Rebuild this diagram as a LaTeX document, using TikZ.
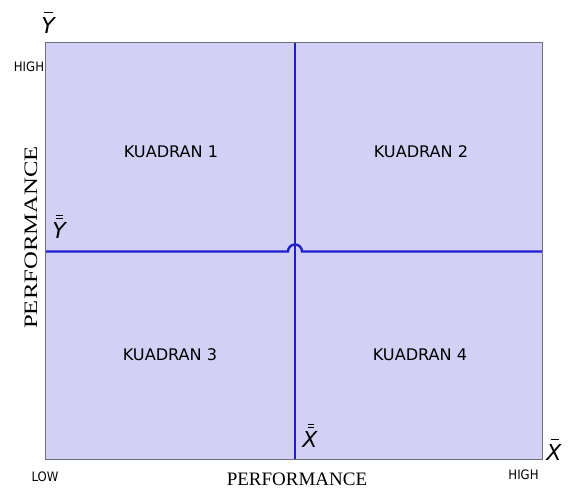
\documentclass[tikz,border=0pt]{standalone}
\usepackage{fontspec}
\usepackage{graphicx}
\setmainfont{Liberation Serif}
\newfontfamily\labelfont{DejaVu Sans Condensed}
\newfontfamily\symfont{DejaVu Sans}
\definecolor{quadfill}{RGB}{211,208,245}
\definecolor{quadedge}{RGB}{110,110,125}
\definecolor{axisblue}{RGB}{30,30,205}
\begin{document}
\begin{tikzpicture}[x=1pt,y=-1pt,
  quad/.style={inner sep=0pt,font=\labelfont\fontsize{16}{19}\selectfont},
  tick/.style={inner sep=0pt,font=\labelfont\fontsize{13}{16}\selectfont},
  axtitle/.style={inner sep=0pt,font=\fontsize{19}{22}\selectfont},
  sym/.style={inner sep=0pt,font=\symfont\itshape\fontsize{22}{26}\selectfont},
  bar/.style={line width=1.3pt,black},
  meanline/.style={axisblue,line width=2.4pt}]
\useasboundingbox (0,0) rectangle (568,489);

% plotting field
\fill[quadfill] (45,43) rectangle (542,459);

% mean lines: vertical at X, horizontal at Y with a hop over the vertical one
\draw[axisblue,line width=1.6pt] (295,43) -- (295,459);
\draw[meanline] (45,251.5) -- (288,251.5) arc[start angle=180,end angle=360,radius=7] -- (542,251.5);

\draw[quadedge,line width=1pt] (45,43) rectangle (542,459);

% quadrant names
\node[quad] (q1) at (171,152) {\scalebox{1.12}[1]{KUADRAN 1}};
\node[quad] (q2) at (421,152) {\scalebox{1.12}[1]{KUADRAN 2}};
\node[quad] (q3) at (170,355) {\scalebox{1.12}[1]{KUADRAN 3}};
\node[quad] (q4) at (420,355) {\scalebox{1.12}[1]{KUADRAN 4}};

% axis titles
\node[axtitle] (xt) at (297,479.5) {PERFORMANCE};
\node[axtitle,rotate=90] (yt) at (31,237.5) {\scalebox{1.3}[1]{PERFORMANCE}};

% scale ends
\node[tick] (yhigh) at (29,67) {HIGH};
\node[tick] (xlow) at (45,477) {LOW};
\node[tick] (xhigh) at (523.5,475) {HIGH};

% axis symbols
\node[sym] (ybar) at (48,25) {Y};
\draw[bar] ([xshift=-4pt,yshift=4pt]ybar.north) -- ++(9,0);

\node[sym] (xbar) at (554,452) {X};
\draw[bar] ([xshift=-3pt,yshift=4pt]xbar.north) -- ++(8,0);

% grand means
\node[sym] (ybb) at (59,230) {Y};
\draw[bar] ([xshift=-3pt,yshift=3pt]ybb.north) -- ++(7,0);
\draw[bar] ([xshift=-3pt,yshift=6.5pt]ybb.north) -- ++(7,0);

\node[sym] (xbb) at (310,439) {X};
\draw[bar] ([xshift=-2.5pt,yshift=3pt]xbb.north) -- ++(6,0);
\draw[bar] ([xshift=-2.5pt,yshift=6.5pt]xbb.north) -- ++(6,0);
\end{tikzpicture}
\end{document}
